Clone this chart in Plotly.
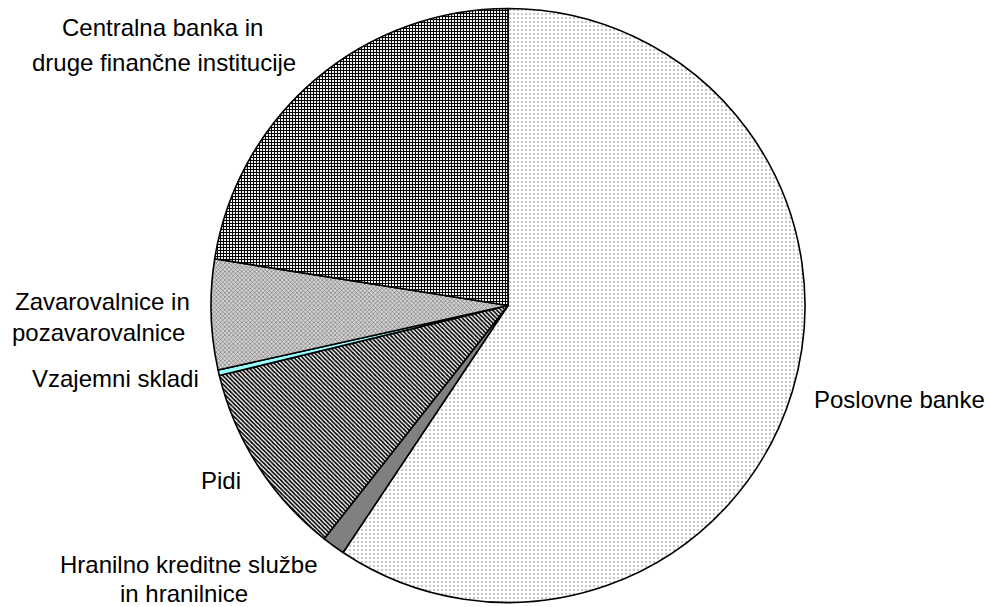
import plotly.graph_objects as go

# Data (shares, %), clockwise from 12 o'clock
categories = [
    "Poslovne banke",
    "Hranilno kreditne službe in hranilnice",
    "Pidi",
    "Vzajemni skladi",
    "Zavarovalnice in pozavarovalnice",
    "Centralna banka in druge finančne institucije",
]
values = [59.4, 1.25, 10.6, 0.3, 6.0, 22.5]

# Label lines shown around the pie (one entry per text line)
label_lines = [
    ("Poslovne banke", 899, 400),
    ("Hranilno kreditne službe", 188, 564),
    ("in hranilnice", 184, 593),
    ("Pidi", 221, 480),
    ("Vzajemni skladi", 115, 378),
    ("Zavarovalnice in", 102, 301),
    ("pozavarovalnice", 98, 332),
    ("Centralna banka in", 162, 28),
    ("druge finančne institucije", 164, 62),
]

W, H = 990, 607
cx, cy, r = 508, 305.5, 297

pattern_shape = [".", "", "\\", "", "x", "+"]
pattern_fg = ["#b4b4b4", "#808080", "#000000", "#99ffff", "#6e6e6e", "#000000"]
pattern_bg = ["#ffffff", "#808080", "#ffffff", "#99ffff", "#d2d2d2", "#ffffff"]
pattern_size = [4, 4, 3, 4, 3, 3]
pattern_sol = [0.2, 0.5, 0.55, 0.5, 0.35, 0.6]

fig = go.Figure(
    go.Pie(
        labels=categories,
        values=values,
        sort=False,
        direction="clockwise",
        rotation=0,
        textinfo="none",
        hoverinfo="label+percent",
        marker=dict(
            colors=pattern_bg,
            line=dict(color="#000000", width=1.6),
            pattern=dict(
                shape=pattern_shape,
                fgcolor=pattern_fg,
                bgcolor=pattern_bg,
                size=pattern_size,
                solidity=pattern_sol,
                fillmode="replace",
            ),
        ),
        domain=dict(
            x=[(cx - r) / W, (cx + r) / W],
            y=[(H - cy - r) / H, (H - cy + r) / H],
        ),
    )
)

annotations = []
for text, x, y in label_lines:
    annotations.append(
        dict(
            text=text,
            x=x / W,
            y=1 - y / H,
            xref="paper",
            yref="paper",
            xanchor="center",
            yanchor="middle",
            showarrow=False,
            font=dict(family="Liberation Sans, Arial, sans-serif", size=24, color="#000000"),
        )
    )

fig.update_layout(
    width=W,
    height=H,
    margin=dict(l=0, r=0, t=0, b=0),
    paper_bgcolor="#ffffff",
    plot_bgcolor="#ffffff",
    showlegend=False,
    annotations=annotations,
)

fig.write_html("out.html")
